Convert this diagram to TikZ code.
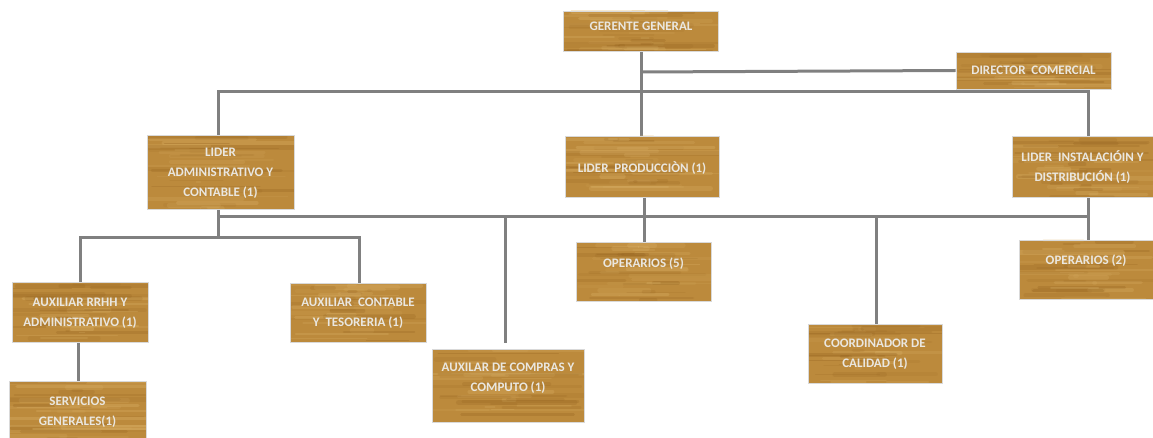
\documentclass[tikz,border=0pt]{standalone}
\usepackage{fontspec}
\setmainfont{Carlito}
\usetikzlibrary{calc}
\pgfdeclarelayer{bg}
\pgfsetlayers{bg,main}
\definecolor{woodbase}{RGB}{188,138,60}
\definecolor{wooddark}{RGB}{150,100,32}
\definecolor{woodlight}{RGB}{222,182,108}
\definecolor{linegray}{RGB}{128,128,128}
\definecolor{txtc}{RGB}{234,231,224}
\tikzset{
  woodgrain/.style={
    path picture={
      \foreach \k in {1,...,40}{
        \pgfmathsetmacro{\ya}{rnd}
        \pgfmathsetmacro{\xa}{rnd*0.7-0.1}
        \pgfmathsetmacro{\xb}{0.3+rnd*0.8}
        \pgfmathsetmacro{\op}{0.10+0.22*rnd}
        \pgfmathsetmacro{\lw}{1+4*rnd}
        \pgfmathsetmacro{\cs}{rnd}
        \ifdim\cs pt<0.55pt \def\gc{wooddark}\else\def\gc{woodlight}\fi
        \draw[line width=\lw pt, draw=\gc, opacity=\op, line cap=round]
          let \p1=(path picture bounding box.south west),
              \p2=(path picture bounding box.north east) in
          ({\x1+\xa*(\x2-\x1)},{\y1+\ya*(\y2-\y1)}) --
          ({\x1+\xb*(\x2-\x1)},{\y1+\ya*(\y2-\y1)});
      }
    }
  },
  orgbox/.style 2 args={draw=gray!30, line width=0.8pt, fill=woodbase,
    inner sep=0pt, woodgrain,
    minimum width=#1pt, minimum height=#2pt},
  orgtxt/.style={text=txtc, font=\bfseries\fontsize{13}{20}\selectfont,
    align=center, inner sep=0pt},
  conn/.style={draw=linegray, line width=3pt, line join=miter}
}
\begin{document}
\begin{tikzpicture}[x=1pt,y=-1pt]
\pgfmathsetseed{7}
\useasboundingbox (0,0) rectangle (1153,438);
% junction coordinates
\coordinate (gx) at (641,72);
\coordinate (bL) at (218,92);
\coordinate (bR) at (1088,92);
\coordinate (mL) at (218,217);
\coordinate (mR) at (1088,217);
\coordinate (lL) at (218,238);
\coordinate (aL) at (80,238);
\coordinate (aR) at (359,238);
\coordinate (cA) at (505,217);
\coordinate (cAe) at (505,343);
\coordinate (cQ) at (876,217);
\coordinate (sL) at (78,300);
\coordinate (pX) at (644,217);
% boxes
\node[orgbox={155}{40}] (g) at (641,31) {};
\node[orgtxt] (gt) at (641,26) {GERENTE GENERAL};
\node[orgbox={155}{37}] (dc) at (1033.5,70.5) {};
\node[orgtxt] (dct) at (1033.5,70) {DIRECTOR\ \ COMERCIAL};
\node[orgbox={147}{74}] (la) at (220.5,172) {};
\node[orgtxt] (lat) at (220.5,173) {LIDER\\ADMINISTRATIVO Y\\CONTABLE (1)};
\node[orgbox={154}{61}] (lp) at (642,166.5) {};
\node[orgtxt] (lpt) at (642,168.5) {LIDER\ \ PRODUCCIÒN (1)};
\node[orgbox={141}{61}] (li) at (1082.5,166.5) {};
\node[orgtxt] (lit) at (1082.5,167.5) {LIDER\ \ INSTALACIÓIN Y\\DISTRIBUCIÓN (1)};
\node[orgbox={135}{59}] (op5) at (643.5,271.5) {};
\node[orgtxt] (op5t) at (643.5,264) {OPERARIOS (5)};
\node[orgbox={134}{59}] (op2) at (1086,269.5) {};
\node[orgtxt] (op2t) at (1086,261) {OPERARIOS (2)};
\node[orgbox={136}{60}] (ar) at (80,312) {};
\node[orgtxt] (art) at (80,313) {AUXILIAR RRHH Y\\ADMINISTRATIVO (1)};
\node[orgbox={136}{59}] (ac) at (358,312.5) {};
\node[orgtxt] (act) at (358,313) {AUXILIAR\ \ CONTABLE\\Y\ \ TESORERIA (1)};
\node[orgbox={137}{57}] (sg) at (77.5,410) {};
\node[orgtxt] (sgt) at (77.5,412.5) {SERVICIOS\\GENERALES(1)};
\node[orgbox={152}{73}] (acc) at (508,385.5) {};
\node[orgtxt] (acct) at (508,378) {AUXILAR DE COMPRAS Y\\COMPUTO (1)};
\node[orgbox={134}{59}] (cc) at (875,353.5) {};
\node[orgtxt] (cct) at (875,354.5) {COORDINADOR DE\\CALIDAD (1)};
% connectors
\begin{pgfonlayer}{bg}
\draw[conn] (g.south -| gx) -- (lp.north -| gx);
\draw[conn] (gx) -- (dc.west);
\draw[conn] (la.north -| bL) -- (bL) -- (bR) -- (li.north -| bR);
\draw[conn] (la.south -| mL) -- (lL);
\draw[conn] (mL) -- (mR);
\draw[conn] (li.south -| mR) -- (op2.north -| mR);
\draw[conn] (lp.south -| pX) -- (op5.north -| pX);
\draw[conn] (ar.north -| aL) -- (aL) -- (aR) -- (ac.north -| aR);
\draw[conn] (cA) -- (cAe);
\draw[conn] (cQ) -- (cc.north -| cQ);
\draw[conn] (ar.south -| sL) -- (sg.north -| sL);
\end{pgfonlayer}
\end{tikzpicture}
\end{document}
